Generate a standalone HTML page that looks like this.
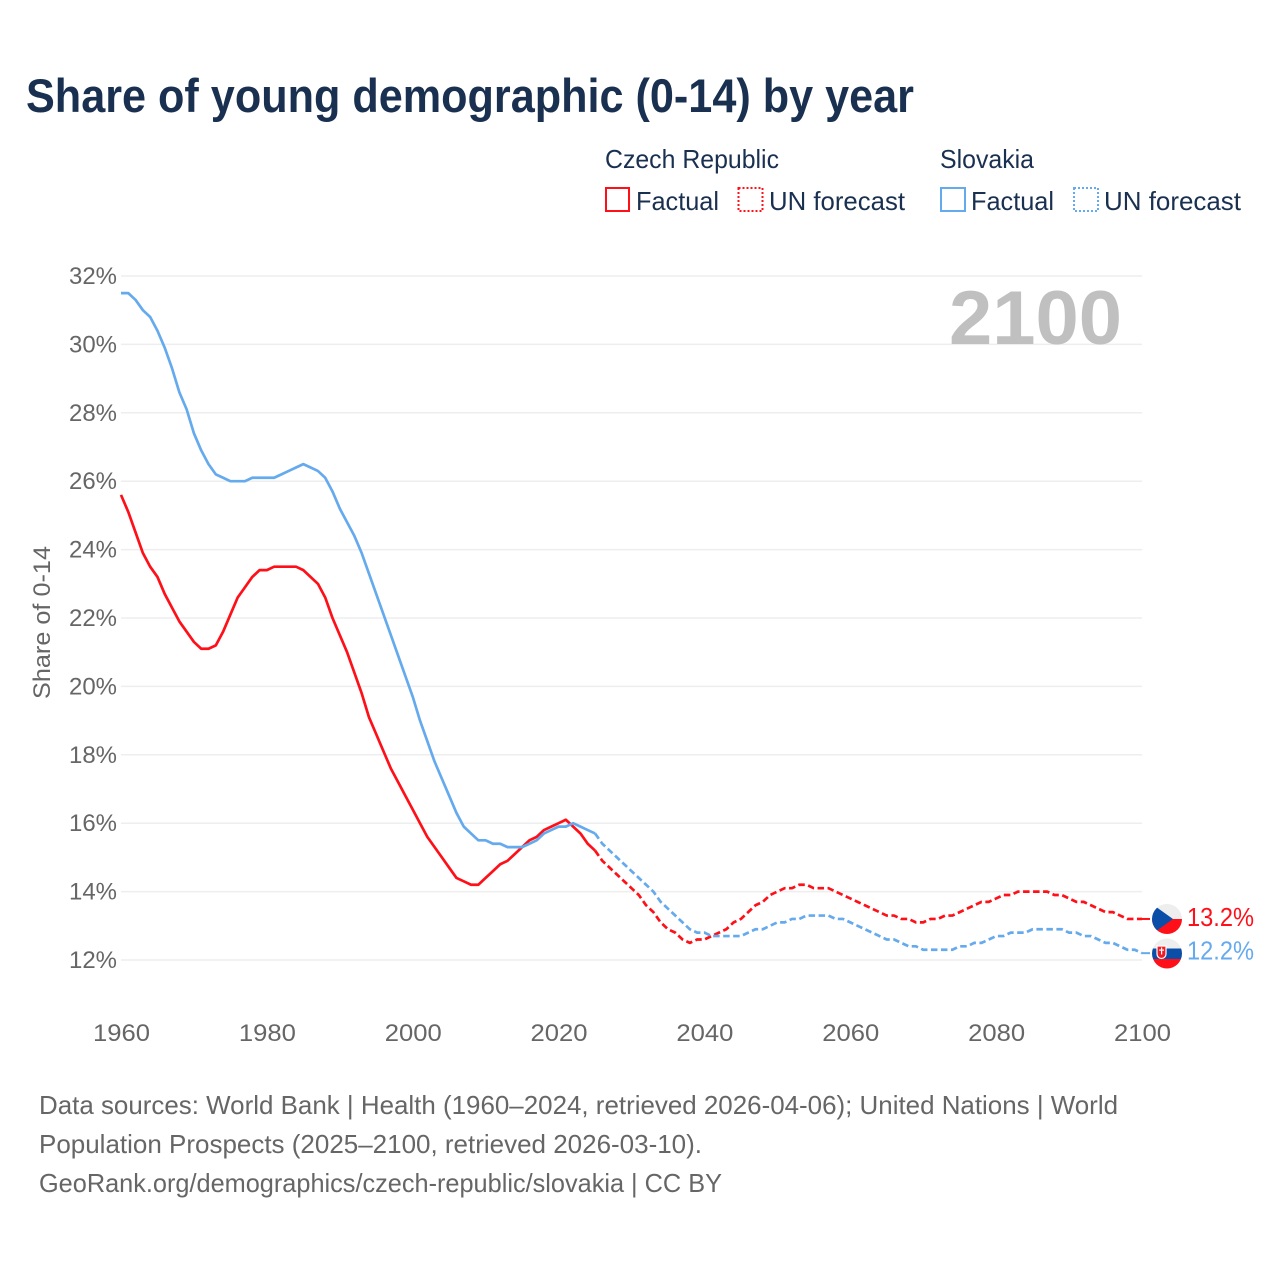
<!DOCTYPE html>
<html lang="en">
<head>
<meta charset="utf-8">
<title>Share of young demographic (0-14) by year</title>
<style>
html,body{margin:0;padding:0;background:#fff;width:1280px;height:1280px;overflow:hidden}
svg{display:block;font-family:"Liberation Sans",sans-serif}
</style>
</head>
<body>
<svg id="chart" xmlns="http://www.w3.org/2000/svg" width="1280" height="1280" viewBox="0 0 1280 1280">
  <defs>
    <clipPath id="cz-clip"><circle cx="1167" cy="919" r="15"/></clipPath>
    <clipPath id="sk-clip"><circle cx="1167" cy="953.5" r="15"/></clipPath>
  </defs>
  <rect width="1280" height="1280" fill="#fff"/>
  <text x="26" y="112" font-size="47" font-weight="700" fill="#1a3050" textLength="888" lengthAdjust="spacingAndGlyphs">Share of young demographic (0-14) by year</text>

  <g fill="#1a3050" font-size="26">
    <text x="605" y="168" textLength="174" lengthAdjust="spacingAndGlyphs">Czech Republic</text>
    <text x="940" y="168" textLength="94" lengthAdjust="spacingAndGlyphs">Slovakia</text>
    <rect x="606" y="188" width="23" height="23" fill="none" stroke="#ff1018" stroke-width="2"/>
    <text x="636" y="210" textLength="83" lengthAdjust="spacingAndGlyphs">Factual</text>
    <rect x="738.500" y="188" width="24" height="23" fill="none" stroke="#ff1018" stroke-width="2" stroke-dasharray="2 2"/>
    <text x="769" y="210" textLength="136" lengthAdjust="spacingAndGlyphs">UN forecast</text>
    <rect x="941" y="188" width="24" height="23" fill="none" stroke="#66aaee" stroke-width="2"/>
    <text x="971" y="210" textLength="83" lengthAdjust="spacingAndGlyphs">Factual</text>
    <rect x="1074" y="188" width="24" height="23" fill="none" stroke="#66aaee" stroke-width="2" stroke-dasharray="2 2"/>
    <text x="1104" y="210" textLength="137" lengthAdjust="spacingAndGlyphs">UN forecast</text>
  </g>

  <g id="grid"></g>
  <g id="yticks"></g>
  <g id="xticks"></g>

  <text x="949" y="344" font-size="76" font-weight="700" fill="#c0c0c0" textLength="173" lengthAdjust="spacingAndGlyphs">2100</text>
  <text transform="translate(50,699) rotate(-90)" x="0" y="0" font-size="24" fill="#666" textLength="153" lengthAdjust="spacingAndGlyphs">Share of 0-14</text>

  <g id="series"></g>

  <g>
    <g clip-path="url(#cz-clip)">
      <rect x="1152" y="904" width="30" height="15" fill="#eeeeee"/>
      <rect x="1152" y="919" width="30" height="15" fill="#ff1018"/>
      <polygon points="1152,904 1173,919 1152,934" fill="#0b4ea8"/>
    </g>
  </g>
  <g>
    <g clip-path="url(#sk-clip)">
      <rect x="1152" y="938" width="30" height="10.5" fill="#eeeeee"/>
      <rect x="1152" y="948.500" width="30" height="10.500" fill="#0b4ea8"/>
      <rect x="1152" y="959" width="30" height="10" fill="#ff1018"/>
      <path d="M1157 946h9v8a4.500 4.500 0 0 1-9 0z" fill="#ee1c25" stroke="#fff" stroke-width="1.200"/>
      <rect x="1161" y="947.500" width="1.200" height="7" fill="#fff"/>
      <rect x="1159.200" y="949.500" width="4.800" height="1.200" fill="#fff"/>
    </g>
  </g>

  <text x="1187" y="926" font-size="26" fill="#ff1018" textLength="67" lengthAdjust="spacingAndGlyphs">13.2%</text>
  <text x="1187" y="959.500" font-size="26" fill="#66aaee" textLength="67" lengthAdjust="spacingAndGlyphs">12.2%</text>

  <g fill="#666" font-size="26">
    <text x="39" y="1114" textLength="1079" lengthAdjust="spacingAndGlyphs">Data sources: World Bank | Health (1960–2024, retrieved 2026-04-06); United Nations | World</text>
    <text x="39" y="1153" textLength="663" lengthAdjust="spacingAndGlyphs">Population Prospects (2025–2100, retrieved 2026-03-10).</text>
    <text x="39" y="1192" textLength="683" lengthAdjust="spacingAndGlyphs">GeoRank.org/demographics/czech-republic/slovakia | CC BY</text>
  </g>
</svg>
<script>
var yTickValues = [12, 14, 16, 18, 20, 22, 24, 26, 28, 30, 32];
var xTickYears = [1960, 1980, 2000, 2020, 2040, 2060, 2080, 2100];
var factualStartYear = 1960;
var forecastStartYear = 2025;
var czechFactual = [
  25.6,25.1,24.5,23.9,23.5,23.2,22.7,22.3,21.9,21.6,
  21.3,21.1,21.1,21.2,21.6,22.1,22.6,22.9,23.2,23.4,
  23.4,23.5,23.5,23.5,23.5,23.4,23.2,23.0,22.6,22.0,
  21.5,21.0,20.4,19.8,19.1,18.6,18.1,17.6,17.2,16.8,
  16.4,16.0,15.6,15.3,15.0,14.7,14.4,14.3,14.2,14.2,
  14.4,14.6,14.8,14.9,15.1,15.3,15.5,15.6,15.8,15.9,
  16.0,16.1,15.9,15.7,15.4,15.2
];
var czechForecast = [
  15.2,14.9,14.7,14.5,14.3,
  14.1,13.9,13.6,13.4,13.1,12.9,12.8,12.6,12.5,12.6,
  12.6,12.7,12.8,12.9,13.1,13.2,13.4,13.6,13.7,13.9,
  14.0,14.1,14.1,14.2,14.2,14.1,14.1,14.1,14.0,13.9,
  13.8,13.7,13.6,13.5,13.4,13.3,13.3,13.2,13.2,13.1,
  13.1,13.2,13.2,13.3,13.3,13.4,13.5,13.6,13.7,13.7,
  13.8,13.9,13.9,14.0,14.0,14.0,14.0,14.0,13.9,13.9,
  13.8,13.7,13.7,13.6,13.5,13.4,13.4,13.3,13.2,13.2,
  13.2
];
var slovakFactual = [
  31.5,31.5,31.3,31.0,30.8,30.4,29.9,29.3,28.6,28.1,
  27.4,26.9,26.5,26.2,26.1,26.0,26.0,26.0,26.1,26.1,
  26.1,26.1,26.2,26.3,26.4,26.5,26.4,26.3,26.1,25.7,
  25.2,24.8,24.4,23.9,23.3,22.7,22.1,21.5,20.9,20.3,
  19.7,19.0,18.4,17.8,17.3,16.8,16.3,15.9,15.7,15.5,
  15.5,15.4,15.4,15.3,15.3,15.3,15.4,15.5,15.7,15.8,
  15.9,15.9,16.0,15.9,15.8,15.7
];
var slovakForecast = [
  15.7,15.4,15.2,15.0,14.8,
  14.6,14.4,14.2,14.0,13.7,13.5,13.3,13.1,12.9,12.8,
  12.8,12.7,12.7,12.7,12.7,12.7,12.8,12.9,12.9,13.0,
  13.1,13.1,13.2,13.2,13.3,13.3,13.3,13.3,13.2,13.2,
  13.1,13.0,12.9,12.8,12.7,12.6,12.6,12.5,12.4,12.4,
  12.3,12.3,12.3,12.3,12.3,12.4,12.4,12.5,12.5,12.6,
  12.7,12.7,12.8,12.8,12.8,12.9,12.9,12.9,12.9,12.9,
  12.8,12.8,12.7,12.7,12.6,12.5,12.5,12.4,12.3,12.3,
  12.2
];

var NS = 'http://www.w3.org/2000/svg';
function xScale(year) { return 121 + (year - 1960) * (1142 - 121) / 140; }
function yScale(value) { return 960 - (value - 12) * (960 - 276) / 20; }

function svgEl(tag, attrs, parent) {
  var el = document.createElementNS(NS, tag);
  for (var k in attrs) { el.setAttribute(k, attrs[k]); }
  parent.appendChild(el);
  return el;
}

var gridGroup = document.getElementById('grid');
var yTickGroup = document.getElementById('yticks');
var xTickGroup = document.getElementById('xticks');
var seriesGroup = document.getElementById('series');

yTickValues.forEach(function (v) {
  var line = svgEl('line', {x1: 121, x2: 1142, y1: yScale(v), y2: yScale(v), stroke: '#eeeeee', 'stroke-width': 1.5}, gridGroup);
  
  
  var label = svgEl('text', {x: 117, y: yScale(v) + 8, 'text-anchor': 'end', 'font-size': 24.5, fill: '#666', textLength: 48, lengthAdjust: 'spacingAndGlyphs'}, yTickGroup);
  
  
  label.textContent = v + '%';
});

xTickYears.forEach(function (year) {
  var label = svgEl('text', {x: xScale(year) - 28, y: 1041, 'font-size': 24.5, fill: '#666', textLength: 57, lengthAdjust: 'spacingAndGlyphs'}, xTickGroup);
  
  
  label.textContent = year;
});

function pathFor(values, startYear) {
  return values.map(function (v, i) {
    return (i ? 'L' : 'M') + xScale(startYear + i).toFixed(2) + ' ' + yScale(v).toFixed(2);
  }).join('');
}

function drawSeries(values, startYear, color, dashed, name) {
  var attrs = {d: pathFor(values, startYear), fill: 'none', stroke: color, 'stroke-width': 2.7, 'stroke-linejoin': 'round'};
  if (dashed) { attrs['stroke-dasharray'] = '6.5 3.5'; }
  var path = svgEl('path', attrs, seriesGroup);
  
  
}

function drawConnector(lastValue, color, name) {
  var line = svgEl('line', {x1: xScale(2100), x2: xScale(2100) + 8, y1: yScale(lastValue), y2: yScale(lastValue), stroke: color, 'stroke-width': 2}, seriesGroup);
  
  
}

drawSeries(czechFactual, factualStartYear, '#ff1018', false, 'line-czech-factual');
drawSeries(slovakFactual, factualStartYear, '#66aaee', false, 'line-slovakia-factual');
drawSeries(czechForecast, forecastStartYear, '#ff1018', true, 'line-czech-forecast');
drawSeries(slovakForecast, forecastStartYear, '#66aaee', true, 'line-slovakia-forecast');
drawConnector(czechForecast[czechForecast.length - 1], '#ff1018', 'connector-czech');
drawConnector(slovakForecast[slovakForecast.length - 1], '#66aaee', 'connector-slovakia');
</script>
</body>
</html>
